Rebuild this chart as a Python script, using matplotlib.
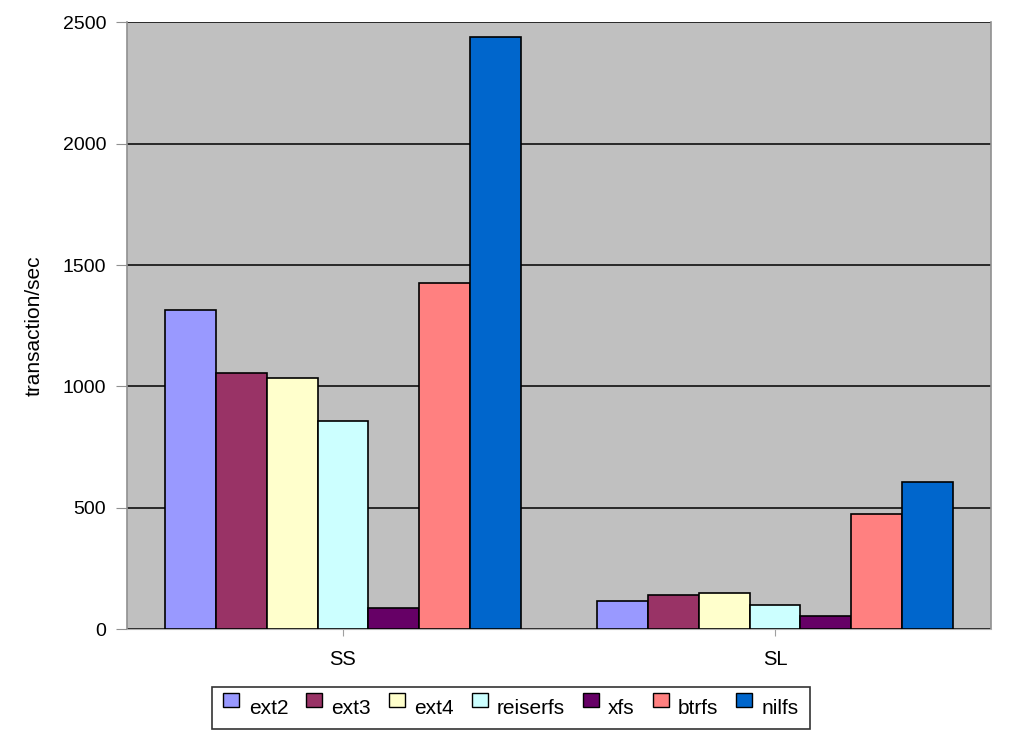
import matplotlib
matplotlib.use("Agg")
import matplotlib.pyplot as plt
import numpy as np
from matplotlib.patches import Patch, Rectangle
from matplotlib.legend_handler import HandlerPatch

categories = ["SS", "SL"]
series = ["ext2", "ext3", "ext4", "reiserfs", "xfs", "btrfs", "nilfs"]
ext2 = [1317, 116]
ext3 = [1054, 140]
ext4 = [1033, 149]
reiserfs = [856, 99]
xfs = [86, 54]
btrfs = [1428, 475]
nilfs = [2441, 607]
values = [ext2, ext3, ext4, reiserfs, xfs, btrfs, nilfs]
colors = ["#9999FF", "#993366", "#FFFFCC", "#CCFFFF", "#660066", "#FF8080", "#0066CC"]
yticks = [0, 500, 1000, 1500, 2000, 2500]

fig = plt.figure(figsize=(10.24, 7.43), dpi=100)
ax = fig.add_axes([127/1024, 1 - 629.3/743, (991 - 127)/1024, (629.3 - 22.3)/743])
ax.set_facecolor("#C0C0C0")

x = np.arange(len(categories))
w = 0.1178
n = len(series)
for i, (name, vals, c) in enumerate(zip(series, values, colors)):
    ax.bar(x + (i - (n - 1) / 2) * w, vals, width=w, color=c,
           edgecolor="black", linewidth=1.2, zorder=3, label=name)

ax.set_xlim(-0.5, 1.5)
ax.set_ylim(0, 2500)
ax.set_yticks(yticks)
ax.set_yticklabels([str(t) for t in yticks], fontsize=14, family="Liberation Sans")
ax.set_xticks(x)
ax.set_xticklabels(categories, fontsize=14.5, family="Liberation Sans")
ax.yaxis.grid(True, color="black", linewidth=1.1, zorder=1)
ax.set_axisbelow(True)
ax.tick_params(axis="y", length=8, color="#909090", pad=7)
ax.tick_params(axis="x", length=5, color="#A0A0A0", pad=10)
for s in ["left", "right"]:
    ax.spines[s].set_color("#909090")
    ax.spines[s].set_linewidth(1.2)
ax.spines["bottom"].set_color("#B0B0B0")
ax.spines["top"].set_visible(False)

ax.set_ylabel("transaction/sec", fontsize=15, family="Liberation Sans", labelpad=14)


def raised_box(legend, orig_handle, xdescent, ydescent, width, height, fontsize):
    return Rectangle((-xdescent, -ydescent + 0.3 * fontsize), width, height)


handles = [Patch(facecolor=c, edgecolor="black", label=s) for s, c in zip(series, colors)]
leg = fig.legend(handles=handles, loc="center", ncol=7,
                 bbox_to_anchor=(511/1024, 1 - 708/743),
                 frameon=True, fancybox=False, edgecolor="black",
                 prop={"family": "Liberation Sans", "size": 15},
                 handlelength=0.77, handleheight=0.65, handletextpad=0.45,
                 columnspacing=0.85, borderpad=0.55,
                 handler_map={Patch: HandlerPatch(patch_func=raised_box)})
leg.get_frame().set_linewidth(1.2)

fig.savefig("out.png", dpi=100)
